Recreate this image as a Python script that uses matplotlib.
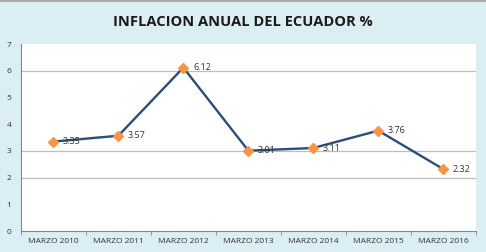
import matplotlib.pyplot as plt
import numpy as np

periodos = ['MARZO 2010', 'MARZO 2011', 'MARZO 2012', 'MARZO 2013',
            'MARZO 2014', 'MARZO 2015', 'MARZO 2016']
inflacion = [3.35, 3.57, 6.12, 3.01, 3.11, 3.76, 2.32]
etiquetas = ['3.35', '3.57', '6.12', '3.01', '3.11', '3.76', '2.32']
y_ticks = [0, 1, 2, 3, 4, 5, 6, 7]
grid_levels = [2, 3, 6]

plt.rcParams['font.family'] = ['Open Sans', 'DejaVu Sans']

fig = plt.figure(figsize=(4.86, 2.52), dpi=100, facecolor='#DBEEF4')
ax = fig.add_axes([0.043, 0.083, 0.936, 0.742])
ax.set_facecolor('white')

x = np.arange(len(periodos))
for g in grid_levels:
    ax.axhline(g, color='#BDBDBD', lw=0.9, zorder=1)

ax.plot(x, inflacion, color='#2C4D75', lw=1.7, marker='D', markersize=5,
        markerfacecolor='#F79646', markeredgecolor='#F79646', zorder=3)

for xi, v, t in zip(x, inflacion, etiquetas):
    ax.annotate(t, (xi, v), xytext=(7, 0), textcoords='offset points',
                va='center', ha='left', fontsize=6.5, color='#333333', zorder=4)

ax.set_xlim(-0.5, len(periodos) - 0.5)
ax.set_ylim(0, 7)
ax.set_yticks(y_ticks)
ax.set_yticklabels([str(v) for v in y_ticks], fontsize=6, color='#333333')
ax.set_xticks(x)
ax.set_xticklabels(periodos, fontsize=6, color='#333333')
ax.tick_params(axis='x', length=0, pad=5)
ax.tick_params(axis='y', length=0, pad=7)
ax.set_xticks(np.arange(-0.5, len(periodos), 1), minor=True)
ax.tick_params(axis='x', which='minor', length=3, color='#888888')

for s in ['top', 'right']:
    ax.spines[s].set_visible(False)
ax.spines['left'].set_color('#888888')
ax.spines['bottom'].set_color('#888888')
ax.spines['left'].set_linewidth(0.8)
ax.spines['bottom'].set_linewidth(0.8)

fig.text(0.5, 0.912, 'INFLACION ANUAL DEL ECUADOR %', ha='center', va='center',
         fontsize=10.5, fontweight='bold', color='#1A1A1A')
fig.add_artist(plt.Line2D([0, 1], [0.996, 0.996], transform=fig.transFigure,
                          color='#AAAAAA', lw=1.5))

fig.savefig('out.png', dpi=100, facecolor=fig.get_facecolor())
